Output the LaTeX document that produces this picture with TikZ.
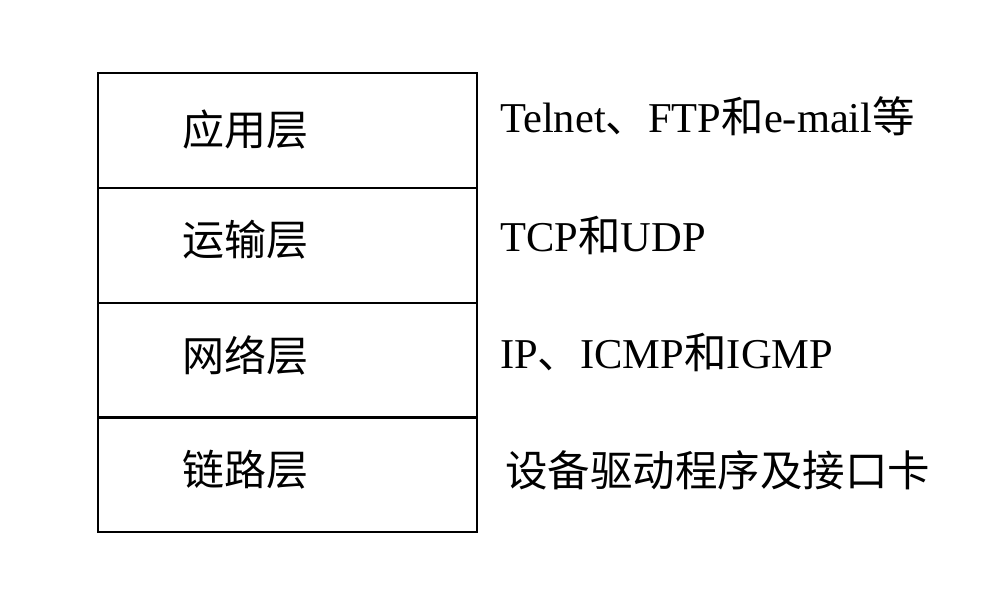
\documentclass[tikz,border=0pt]{standalone}
\usepackage{fontspec}
\setmainfont{Liberation Serif}
\newfontfamily\cjk{Noto Sans CJK SC}
\begin{document}
\begin{tikzpicture}[x=1pt,y=-1pt,
  layer/.style={draw,line width=2pt,minimum width=379pt,minimum height=115pt,anchor=north west,inner sep=0pt},
  lbl/.style={font=\cjk\fontsize{42}{48}\selectfont},
  rt/.style={anchor=west,inner sep=0pt,font=\fontsize{42.5}{48}\selectfont}]
\useasboundingbox (0,0) rectangle (994,599);
\node[layer] (l1) at (97,72) {};
\node[layer] (l2) at (97,187) {};
\node[layer] (l3) at (97,302) {};
\node[layer] (l4) at (97,416) {};
\node[lbl] (t1) at (245,130) {应用层};
\node[lbl] (t2) at (245,240) {运输层};
\node[lbl] (t3) at (245,355) {网络层};
\node[lbl] (t4) at (245,470) {链路层};
\node[rt] (r1) at (500,116) {Telnet{\cjk 、}FTP{\cjk 和}e-mail{\cjk 等}};
\node[rt] (r2) at (500,235) {TCP{\cjk 和}UDP};
\node[rt] (r3) at (500,352) {IP{\cjk 、}ICMP{\cjk 和}IGMP};
\node[rt,font=\cjk\fontsize{42.5}{48}\selectfont] (r4) at (505,470) {设备驱动程序及接口卡};
\end{tikzpicture}
\end{document}
